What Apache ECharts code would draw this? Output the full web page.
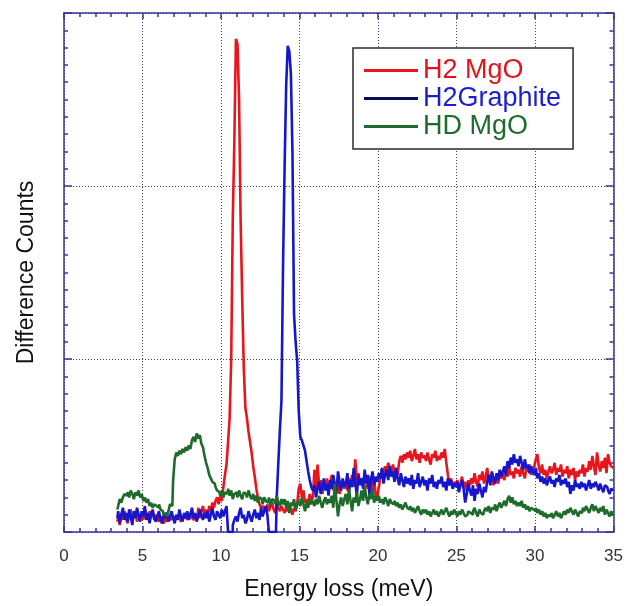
<!DOCTYPE html>
<html><head><meta charset="utf-8">
<script src="https://cdn.jsdelivr.net/npm/echarts@6/dist/echarts.min.js"></script>
<style>html,body{margin:0;padding:0;background:#fff;overflow:hidden}#c{width:626px;height:606px}</style>
</head><body><div id="c"></div>
<script>
// Energy bins (meV): 3.4 to 35.0 in 0.1 steps
const energyStart = 3.4;
const energyStep = 0.1;
const xTicks = [0, 5, 10, 15, 20, 25, 30, 35];
const seriesNames = ['H2 MgO', 'H2Graphite', 'HD MgO'];

const h2MgO = [
  6, 9, 4, 11, 7, 12,
  8, 5, 10, 13, 7, 9, 12, 6, 10, 8,
  11, 7, 13, 10, 8, 12, 9, 11, 7, 10,
  8, 6, 9, 7, 5, 8, 6, 9, 7, 8,
  9, 7, 8, 10, 8, 6, 9, 8, 10, 7,
  9, 11, 8, 7, 10, 9, 14, 8, 12, 15,
  10, 13, 9, 15, 12, 17, 14, 18, 20, 16,
  21, 18, 26, 33, 39, 52, 66, 100, 181, 226,
  285, 282, 250, 180, 135, 95, 72, 66, 58, 52,
  46, 38, 32, 25, 20, 16, 14, 15, 13, 12,
  16, 12, 15, 17, 13, 11, 16, 14, 12, 15,
  13, 11, 14, 12, 15, 13, 10, 14, 12, 16,
  25, 28, 20, 24, 17, 19, 16, 22, 18, 20,
  36, 24, 39, 27, 30, 22, 28, 25, 31, 26,
  28, 33, 24, 29, 26, 31, 22, 27, 30, 25,
  29, 24, 31, 27, 33, 26, 42, 30, 34, 28,
  31, 27, 34, 29, 25, 32, 28, 24, 30, 22,
  20, 26, 31, 36, 33, 38, 35, 40, 37, 34,
  39, 35, 37, 33, 41, 44, 40, 45, 42, 46,
  43, 47, 41, 44, 48, 42, 45, 40, 46, 43,
  44, 41, 46, 42, 39, 45, 43, 47, 41, 44,
  42, 46, 43, 48, 40, 33, 28, 31, 26, 29,
  27, 30, 25, 28, 32, 26, 29, 24, 30, 27,
  31, 28, 34, 29, 26, 33, 30, 35, 28, 32,
  37, 31, 29, 34, 27, 32, 30, 28, 33, 31,
  34, 30, 36, 32, 38, 33, 35, 31, 37, 34,
  36, 32, 38, 34, 31, 37, 35, 39, 33, 36,
  38, 42, 45, 37, 34, 39, 33, 36, 31, 35,
  38, 34, 36, 40, 33, 37, 35, 39, 32, 36,
  34, 38, 31, 36, 33, 37, 30, 35, 32, 36,
  34, 39, 32, 37, 35, 41, 36, 44, 38, 33,
  46, 39, 35, 41, 37, 43, 34, 45, 40, 38,
  37
];

const h2Graphite = [
  8, 12, 5, 10, 14, 7,
  11, 6, 13, 9, 4, 12, 8, 14, 10, 6,
  12, 9, 15, 7, 11, 5, 10, 13, 8, 6,
  9, 12, 7, 5, 10, 8, 11, 6, 9, 12,
  8, 5, 10, 7, 13, 9, 6, 11, 8, 12,
  7, 10, 14, 8, 11, 6, 9, 13, 10, 7,
  11, 8, 12, 6, 10, 14, 9, 7, 12, 10,
  8, 13, 9, 12, 15, 0, 0, 0, 4, 7,
  9, 6, 11, 14, 8, 10, 5, 7, 12, 9,
  6, 10, 13, 8, 11, 7, 14, 9, 12, 15,
  10, 0, 0, 0, 0, 0, 20, 40, 59, 76,
  154, 211, 258, 281, 278, 265, 220, 126, 110, 99,
  70, 55, 53, 50, 47, 41, 35, 30, 26, 24,
  27, 20, 25, 29, 22, 26, 31, 24, 28, 21,
  30, 25, 33, 27, 22, 35, 29, 24, 31, 26,
  28, 34, 23, 30, 26, 37, 29, 21, 33, 27,
  31, 25, 36, 28, 33, 22, 30, 35, 27, 32,
  29, 34, 31, 37, 28, 33, 36, 30, 38, 32,
  35, 29, 37, 31, 27, 34, 30, 26, 32, 28,
  31, 27, 33, 25, 30, 28, 34, 26, 29, 32,
  27, 30, 24, 31, 28, 33, 26, 29, 25, 30,
  28, 32, 26, 29, 24, 31, 27, 30, 25, 28,
  26, 29, 23, 27, 30, 25, 17, 22, 28, 24,
  21, 27, 18, 25, 22, 28, 24, 20, 26, 23,
  29, 33, 27, 35, 31, 28, 34, 30, 36, 32,
  35, 38, 33, 41, 37, 43, 39, 45, 40, 42,
  38, 44, 40, 36, 42, 37, 39, 34, 38, 35,
  33, 37, 31, 34, 29, 32, 28, 31, 27, 30,
  32, 28, 30, 26, 31, 29, 33, 27, 30, 28,
  31, 26, 29, 22, 27, 24, 30, 26, 28, 25,
  29, 26, 28, 24, 27, 30, 25, 28, 26, 29,
  27, 24, 28, 25, 23, 27, 26, 24, 22, 25,
  24
];

const hdMgO = [
  13, 15, 19, 17, 20, 22,
  21, 23, 20, 24, 22, 19, 23, 21, 24, 20,
  22, 18, 20, 17, 19, 15, 17, 14, 16, 15,
  14, 16, 13, 12, 10, 11, 9, 12, 16, 15,
  30, 42, 46, 44, 47, 45, 48, 46, 49, 47,
  50, 48, 53, 55, 52, 57, 54, 56, 51, 49,
  44, 40, 37, 33, 31, 29, 28, 26, 24, 23,
  21, 24, 20, 23, 22, 25, 21, 24, 19, 22,
  23, 20, 24, 21, 19, 23, 22, 20, 24, 21,
  19, 22, 18, 21, 17, 20, 19, 16, 20, 18,
  17, 20, 15, 19, 18, 16, 21, 17, 15, 19,
  16, 19, 14, 18, 11, 17, 15, 19, 13, 16,
  18, 15, 20, 16, 12, 17, 14, 19, 16, 18,
  15, 19, 16, 21, 17, 14, 18, 20, 16, 19,
  17, 21, 14, 28, 18, 9, 16, 20, 15, 19,
  22, 16, 25, 18, 12, 20, 17, 23, 15, 19,
  24, 18, 27, 20, 16, 22, 19, 25, 17, 21,
  18, 21, 17, 19, 16, 20, 18, 15, 19, 17,
  16, 18, 15, 17, 14, 16, 13, 15, 17, 14,
  13, 15, 12, 14, 11, 13, 15, 12, 10, 13,
  11, 13, 10, 12, 9, 11, 13, 10, 12, 9,
  11, 13, 10, 12, 14, 11, 9, 12, 10, 13,
  11, 9, 12, 10, 13, 11, 9, 10, 12, 11,
  10, 12, 14, 11, 9, 13, 11, 10, 12, 14,
  12, 15, 11, 14, 13, 16, 12, 15, 17, 14,
  16, 18, 15, 19, 21, 17, 20, 16, 18, 15,
  17, 15, 18, 14, 16, 13, 15, 12, 14, 13,
  12, 14, 11, 13, 10, 12, 9, 11, 8, 10,
  9, 11, 8, 10, 12, 9, 11, 8, 10, 12,
  10, 13, 11, 14, 12, 10, 13, 11, 9, 12,
  11, 14, 12, 15, 13, 11, 14, 16, 12, 15,
  13, 11, 14, 12, 15, 10, 13, 11, 9, 12,
  10
];

function pairs(vals) {
  return vals.map((v, i) => [Math.round((energyStart + i * energyStep) * 10) / 10, v]);
}

const frameColor = '#36369a';
const gridColor = '#3c3c7a';
const FONT = 'Liberation Sans, Arial, sans-serif';

const chart = echarts.init(document.getElementById('c'), null, {renderer: 'canvas'});

const commonX = {
  type: 'value', min: 0, max: 35, interval: 5,
  axisLine: {show: true, onZero: false, lineStyle: {color: frameColor, width: 1.5}},
  axisTick: {show: true, inside: true, length: 6, lineStyle: {color: frameColor, width: 1.5}},
  minorTick: {show: true, splitNumber: 5, length: 4, lineStyle: {color: frameColor, width: 1.5}},
};
const commonY = {
  type: 'value', min: 0, max: 300, interval: 100,
  axisLine: {show: true, onZero: false, lineStyle: {color: frameColor, width: 1.5}},
  axisTick: {show: true, inside: true, length: 8, lineStyle: {color: frameColor, width: 1.5}},
  minorTick: {show: true, splitNumber: 10, length: 4, lineStyle: {color: frameColor, width: 1.5}},
  axisLabel: {show: false},
};

const colors = ['#e8161c', '#1616cc', '#1f6b2b'];
const legendIconColors = ['#e8161c', '#0c0c5e', '#1f6b2b'];
const textColors = ['#e0141a', '#1c1cd0', '#1f6b2b'];

chart.setOption({
  animation: false,
  backgroundColor: '#ffffff',
  grid: {left: 64, right: 9, top: 13, bottom: 71, containLabel: false},
  xAxis: [
    Object.assign({}, commonX, {
      position: 'bottom',
      name: 'Energy loss (meV)', nameLocation: 'middle', nameGap: 46,
      nameTextStyle: {fontFamily: FONT, fontSize: 23, color: '#111'},
      axisLabel: {show: true, margin: 16, fontFamily: FONT, fontSize: 17, color: '#333',
        formatter: v => xTicks.indexOf(v) >= 0 ? String(v) : ''},
      splitLine: {show: true, lineStyle: {color: gridColor, type: [1, 2], width: 1}},
    }),
    Object.assign({}, commonX, {
      position: 'top', axisLabel: {show: false}, splitLine: {show: false}
    })
  ],
  yAxis: [
    Object.assign({}, commonY, {
      position: 'left',
      name: 'Difference Counts', nameLocation: 'middle', nameGap: 26,
      nameTextStyle: {fontFamily: FONT, fontSize: 23, color: '#111'},
      splitLine: {show: true, lineStyle: {color: gridColor, type: [1, 2], width: 1}},
    }),
    Object.assign({}, commonY, {
      position: 'right', splitLine: {show: false}
    })
  ],
  legend: {
    show: true, orient: 'vertical', left: 353, top: 48,
    padding: [9, 12, 9, 11],
    itemGap: 1, itemWidth: 54, itemHeight: 3, icon: 'rect',
    borderColor: '#2a2a2a', borderWidth: 1.5, backgroundColor: '#fff',
    textStyle: {fontFamily: FONT, fontSize: 27, lineHeight: 27},
    data: seriesNames.map((n, i) => ({
      name: n,
      itemStyle: {color: legendIconColors[i]},
      textStyle: {color: textColors[i], fontFamily: FONT, fontSize: 27}
    }))
  },
  series: [h2MgO, h2Graphite, hdMgO].map((vals, i) => ({
    name: seriesNames[i],
    type: 'line',
    step: 'middle',
    symbol: 'none',
    xAxisIndex: 0, yAxisIndex: 0,
    data: pairs(vals),
    color: colors[i],
    lineStyle: {color: colors[i], width: 2.6},
    z: 2 + i
  }))
});
</script>
</body></html>
